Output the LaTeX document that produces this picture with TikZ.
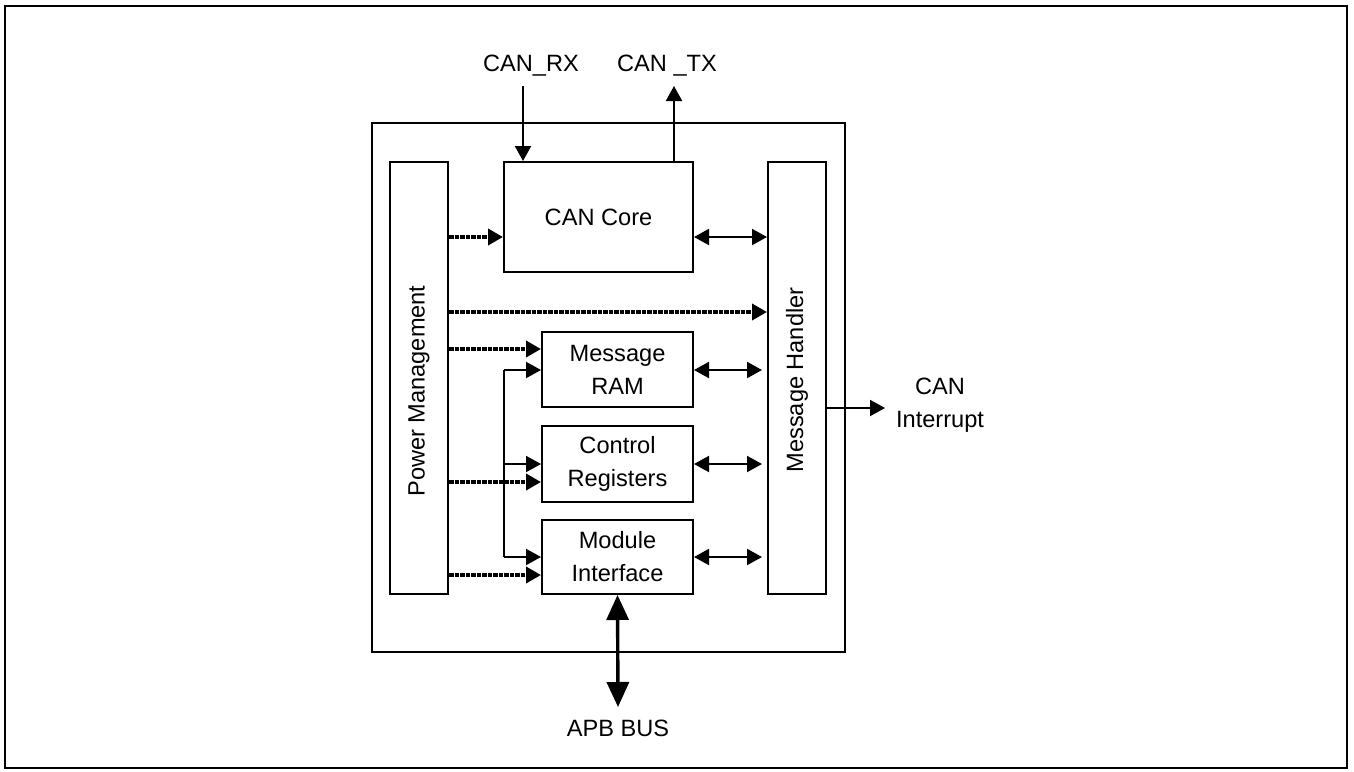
\documentclass[tikz,border=0pt]{standalone}
\usepackage{fontspec}
\setmainfont{Liberation Sans}
\usetikzlibrary{arrows.meta}
\newcommand{\lblfont}{\fontsize{11.8}{16.5}\selectfont}
\begin{document}
\begin{tikzpicture}[x=0.5pt,y=-0.5pt,
  box/.style={draw, line width=1pt, inner sep=0pt, align=center, font=\lblfont},
  lbl/.style={inner sep=0pt, align=center, font=\lblfont},
  arr/.style={-{Triangle[length=7.5pt,width=8pt]}, line width=1pt},
  darr/.style={{Triangle[length=7.5pt,width=8pt]}-{Triangle[length=7.5pt,width=8pt]}, line width=1pt},
  pwr/.style={-{Triangle[length=7.5pt,width=8pt]}, line width=1.8pt, dash pattern=on 2.4pt off 0.35pt},
  bus/.style={{Triangle[length=12.5pt,width=11pt]}-{Triangle[length=12.5pt,width=11pt]}, line width=1.7pt}
]
\useasboundingbox (0,0) rectangle (1354,771);
\draw[line width=1.1pt] (5,6) rectangle (1347,768);

\node[box, minimum width=236.5pt, minimum height=264.5pt] (frame) at (608.5,387.5) {};
\node[box, minimum width=29pt, minimum height=216pt] (pm) at (419,378) {};
\node[lbl, rotate=90] at (419,391) {Power Management};
\node[box, minimum width=29pt, minimum height=216pt] (mh) at (797,378) {};
\node[lbl, rotate=90] at (797,380) {Message Handler};
\node[box, minimum width=94.5pt, minimum height=55pt] (core) at (598.5,217) {CAN Core};
\node[box, minimum width=75.5pt, minimum height=37.5pt] (ram) at (617.5,369.5) {Message\\RAM};
\node[box, minimum width=75.5pt, minimum height=38pt] (ctrl) at (617.5,464) {Control\\Registers};
\node[box, minimum width=75.5pt, minimum height=37pt] (mif) at (617.5,557) {Module\\Interface};

\node[lbl] (rx) at (531,66) {CAN\_RX};
\node[lbl] (tx) at (667,66) {CAN \_TX};
\node[lbl] (apb) at (618,728) {APB BUS};
\node[lbl] (irq) at (940,405) {CAN\\Interrupt};

\coordinate (rxs) at (523,86);
\coordinate (txe) at (674,86);
\coordinate (apbe) at (618,707);
\coordinate (irqe) at (885,408);

% CAN pins
\draw[arr] (rxs) -- (rxs |- core.north);
\draw[arr] (txe |- core.north) -- (txe);

% power management arrows
\draw[pwr] (pm.east |- 0,237) -- (core.west |- 0,237);
\draw[pwr] (pm.east |- 0,312) -- (mh.west |- 0,312);
\draw[pwr] (pm.east |- 0,349) -- (ram.west |- 0,349);
\draw[pwr] (pm.east |- 0,482) -- (ctrl.west |- 0,482);
\draw[pwr] (pm.east |- 0,575) -- (mif.west |- 0,575);

% module interface distribution
\draw[line width=1pt] (504,370) -- (504,557);
\draw[arr] (504,370) -- (ram.west |- 0,370);
\draw[arr] (504,464) -- (ctrl.west |- 0,464);
\draw[arr] (504,557) -- (mif.west |- 0,557);

% message handler links
\draw[darr] (core.east |- 0,237) -- (mh.west |- 0,237);
\draw[darr, shorten >=2.5pt] (ram.east |- 0,370) -- (mh.west |- 0,370);
\draw[darr, shorten >=2.5pt] (ctrl.east |- 0,464) -- (mh.west |- 0,464);
\draw[darr, shorten >=2.5pt] (mif.east |- 0,557) -- (mh.west |- 0,557);

% interrupt and bus
\draw[arr] (mh.east |- irqe) -- (irqe);
\draw[bus] (mif.south) -- (apbe);
\end{tikzpicture}
\end{document}
